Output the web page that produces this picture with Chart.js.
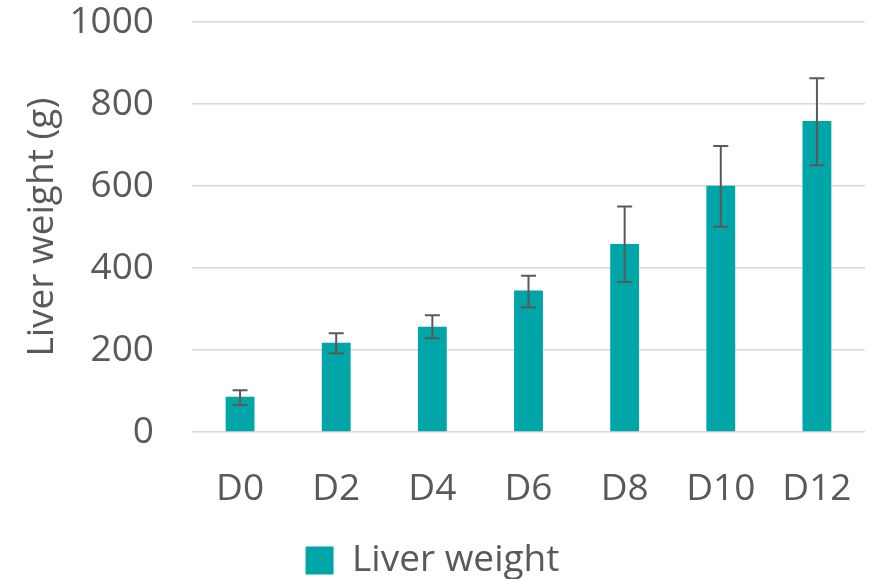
<!DOCTYPE html>
<html lang="en">
  <head>
    <meta charset="UTF-8">
    <title>Liver weight</title>
    <script src="https://cdn.jsdelivr.net/npm/chart.js"></script>
    <style>
      html, body { margin: 0; padding: 0; background: #fff; }
      #wrap { width: 871px; height: 579px; }
    </style>
  </head>
  <body>
    <div id="wrap"><canvas id="chart"></canvas></div>
    <script>
        // Data
        const days = ['D0', 'D2', 'D4', 'D6', 'D8', 'D10', 'D12'];
        const liverWeight = [86, 218, 257, 345, 459, 601, 759];
        const errLow = [66, 192, 229, 304, 366, 501, 651];
        const errHigh = [102, 241, 285, 381, 550, 698, 863];
        const yTicks = [0, 200, 400, 600, 800, 1000];

        const textColor = '#595959';
        const fontFamily = "'Open Sans', sans-serif";
        const fontSize = 37;

        // Error bars drawn through the y scale
        const errorBars = {
            id: 'errorBars',
            afterDatasetsDraw(chart) {
                const ctx = chart.ctx;
                const y = chart.scales.y;
                const meta = chart.getDatasetMeta(0);
                ctx.save();
                ctx.strokeStyle = '#595959';
                ctx.lineWidth = 2;
                meta.data.forEach((bar, i) => {
                    const top = y.getPixelForValue(errHigh[i]);
                    const bot = y.getPixelForValue(errLow[i]);
                    const cap = 7.5;
                    ctx.beginPath();
                    ctx.moveTo(bar.x, top);
                    ctx.lineTo(bar.x, bot);
                    ctx.moveTo(bar.x - cap, top);
                    ctx.lineTo(bar.x + cap, top);
                    ctx.moveTo(bar.x - cap, bot);
                    ctx.lineTo(bar.x + cap, bot);
                    ctx.stroke();
                });
                ctx.restore();
            }
        };

        new Chart(document.getElementById('chart'), {
            type: 'bar',
            data: {
                labels: days,
                datasets: [{
                    label: 'Liver weight',
                    data: liverWeight,
                    backgroundColor: '#00A5A8',
                    categoryPercentage: 1,
                    barPercentage: 0.3
                }]
            },
            options: {
                responsive: true,
                maintainAspectRatio: false,
                animation: false,
                layout: { padding: { top: 0, right: 6, left: 0, bottom: -10 } },
                plugins: {
                    tooltip: { enabled: false },
                    legend: {
                        position: 'bottom',
                        labels: {
                            color: textColor,
                            boxWidth: 28,
                            boxHeight: 28,
                            padding: 2,
                            font: { family: fontFamily, size: fontSize }
                        }
                    }
                },
                scales: {
                    x: {
                        grid: { color: 'rgba(0,0,0,0)', drawTicks: true, tickLength: 35 },
                        border: { display: false },
                        afterFit(s) { s.height = 108; },
                        ticks: {
                            color: textColor,
                            padding: 0,
                            font: { family: fontFamily, size: fontSize }
                        }
                    },
                    y: {
                        min: 0,
                        max: 1000,
                        afterBuildTicks(s) { s.ticks = yTicks.map(v => ({ value: v })); },
                        afterFit(s) { s.width = 192; },
                        grid: { color: '#D9D9D9', lineWidth: 1.5, drawTicks: true, tickLength: 38, tickColor: 'rgba(0,0,0,0)' },
                        border: { display: false },
                        ticks: {
                            color: textColor,
                            padding: 0,
                            callback: v => String(v),
                            font: { family: fontFamily, size: fontSize }
                        },
                        title: {
                            display: true,
                            text: 'Liver weight (g)',
                            color: textColor,
                            padding: { top: 24, bottom: 0 },
                            font: { family: fontFamily, size: fontSize, lineHeight: 1 }
                        }
                    }
                }
            },
            plugins: [errorBars]
        });
    </script>
  </body>
</html>
